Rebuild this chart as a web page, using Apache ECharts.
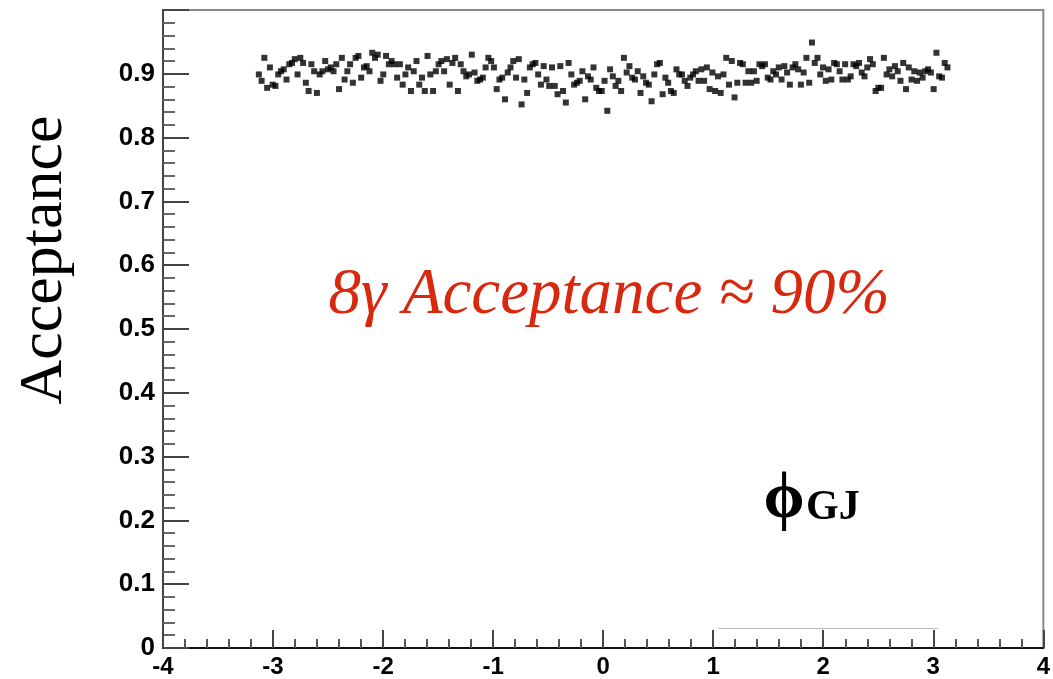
<!DOCTYPE html>
<html>
<head>
<meta charset="utf-8">
<script src="https://cdn.jsdelivr.net/npm/echarts@6/dist/echarts.min.js"></script>
<style>html,body{margin:0;padding:0;background:#fff}#c{width:1053px;height:679px}</style>
</head>
<body>
<div id="c"></div>
<script>
// phi_GJ histogram range and binning
const phiRange = [-Math.PI, Math.PI];
const binCount = 250;
// acceptance per bin
const acceptance = [
0.899,0.889,0.925,0.878,0.910,0.883,0.881,0.899,0.904,0.907,
0.891,0.915,0.917,0.923,0.899,0.925,0.917,0.886,0.873,0.915,
0.904,0.870,0.899,0.904,0.920,0.907,0.910,0.904,0.915,0.876,
0.925,0.891,0.904,0.915,0.886,0.925,0.928,0.894,0.910,0.912,
0.904,0.933,0.925,0.930,0.889,0.899,0.928,0.915,0.920,0.915,
0.894,0.915,0.883,0.899,0.910,0.873,0.904,0.920,0.883,0.894,
0.873,0.928,0.899,0.873,0.904,
0.915,0.920,0.904,0.923,0.883,0.917,0.925,0.873,0.915,0.904,
0.896,0.899,0.930,0.902,0.889,0.891,0.894,0.910,0.925,0.920,
0.910,0.876,0.891,0.894,0.860,0.902,0.910,0.920,0.894,0.923,
0.852,0.891,0.870,0.910,0.915,0.917,0.899,0.883,0.912,0.891,
0.881,0.910,0.881,0.868,0.912,0.873,0.855,0.917,0.899,0.883,
0.886,0.889,0.904,0.860,0.896,0.891,0.910,0.878,0.873,0.873,
0.889,0.842,0.907,0.896,0.881,0.889,0.873,0.925,0.902,
0.912,0.894,0.891,0.904,0.870,0.896,0.886,0.883,0.857,0.899,
0.915,0.917,0.868,0.894,0.886,0.873,0.870,0.907,0.899,0.899,
0.889,0.881,0.894,0.899,0.904,0.889,0.907,0.889,0.910,0.876,
0.902,0.873,0.896,0.870,0.899,0.925,0.883,0.920,0.863,0.886,
0.917,0.915,0.886,0.904,0.886,0.904,0.889,0.915,0.912,0.915,
0.894,0.891,0.904,0.899,0.910,0.891,0.912,0.902,0.883,0.910,
0.915,0.907,0.883,0.902,0.925,0.886,0.949,0.917,
0.925,0.899,0.910,0.889,0.907,0.891,0.917,0.915,0.904,0.891,
0.915,0.891,0.896,0.915,0.912,0.917,0.902,0.896,0.910,0.923,
0.915,0.873,0.878,0.878,0.925,0.899,0.907,0.896,0.912,0.904,
0.889,0.917,0.876,0.910,0.891,0.904,0.889,0.902,0.894,0.904,
0.907,0.902,0.876,0.933,0.896,0.894,0.917,0.910
];
const xTicks = [-4, -3, -2, -1, 0, 1, 2, 3, 4];
const yTicks = [0, 0.1, 0.2, 0.3, 0.4, 0.5, 0.6, 0.7, 0.8, 0.9];
const yTitle = 'Acceptance';
const note = '8\u03B3 Acceptance \u2248 90%';
const xTitleMain = '\u03D5';
const xTitleSub = 'GJ';

const binWidth = (phiRange[1] - phiRange[0]) / binCount;
const points = acceptance.map((v, i) => [phiRange[0] + (i + 0.5) * binWidth, v]);

const chart = echarts.init(document.getElementById('c'), null, {renderer: 'canvas'});
const labelFont = {fontFamily: 'Liberation Sans, Arial, sans-serif', fontWeight: 'bold', color: '#000'};

chart.setOption({
  animation: false,
  backgroundColor: '#fff',
  grid: {left: 163, right: 4, top: 10, bottom: 31, show: true, borderColor: '#888', borderWidth: 2},
  xAxis: {
    type: 'value', min: xTicks[0], max: xTicks[xTicks.length - 1], interval: 1,
    axisLine: {onZero: false, lineStyle: {color: '#111', width: 2}},
    axisTick: {inside: true, length: 18, lineStyle: {color: '#444', width: 2}},
    minorTick: {show: true, splitNumber: 5, length: 9, lineStyle: {color: '#555', width: 2}},
    splitLine: {show: false},
    axisLabel: Object.assign({fontSize: 24, margin: 7, showMaxLabel: true, showMinLabel: true}, labelFont)
  },
  yAxis: {
    type: 'value', min: 0, max: 1, interval: 0.1,
    axisLine: {onZero: false, lineStyle: {color: '#444', width: 2}},
    axisTick: {inside: true, length: 26, lineStyle: {color: '#444', width: 2}},
    minorTick: {show: true, splitNumber: 5, length: 12, lineStyle: {color: '#666', width: 2}},
    splitLine: {show: false},
    axisLabel: Object.assign({fontSize: 26, margin: 8,
      formatter: v => {
        const r = Math.round(v * 10) / 10;
        return yTicks.some(t => Math.abs(t - r) < 1e-9) ? String(r) : '';
      }}, labelFont)
  },
  series: [{
    type: 'scatter',
    data: points,
    symbol: 'rect',
    symbolSize: 6,
    itemStyle: {color: '#000'},
    markLine: {
      silent: true, symbol: 'none', label: {show: false},
      lineStyle: {color: '#bbb', width: 1, type: 'solid'},
      data: [[{coord: [1.05, 0.031]}, {coord: [3.04, 0.031]}]]
    }
  }],
  graphic: [
    {type: 'text', x: 45, y: 260, rotation: Math.PI / 2,
      style: {text: yTitle, font: '62px "Liberation Serif", "Times New Roman", serif', fill: '#000', textAlign: 'center', textVerticalAlign: 'middle'}},
    {type: 'text', x: 609, y: 296,
      style: {text: note, font: 'italic 65px "Liberation Serif", "Times New Roman", serif', fill: '#d8280e', textAlign: 'center', textVerticalAlign: 'middle'}},
    {type: 'text', x: 784, y: 500,
      style: {text: xTitleMain, font: 'bold 66px "Liberation Serif", "DejaVu Serif", serif', fill: '#000', textAlign: 'center', textVerticalAlign: 'middle'}},
    {type: 'text', x: 806, y: 508,
      style: {text: xTitleSub, font: 'bold 42px "Liberation Serif", "Times New Roman", serif', fill: '#000', textAlign: 'left', textVerticalAlign: 'middle'}}
  ]
});
</script>
</body>
</html>
